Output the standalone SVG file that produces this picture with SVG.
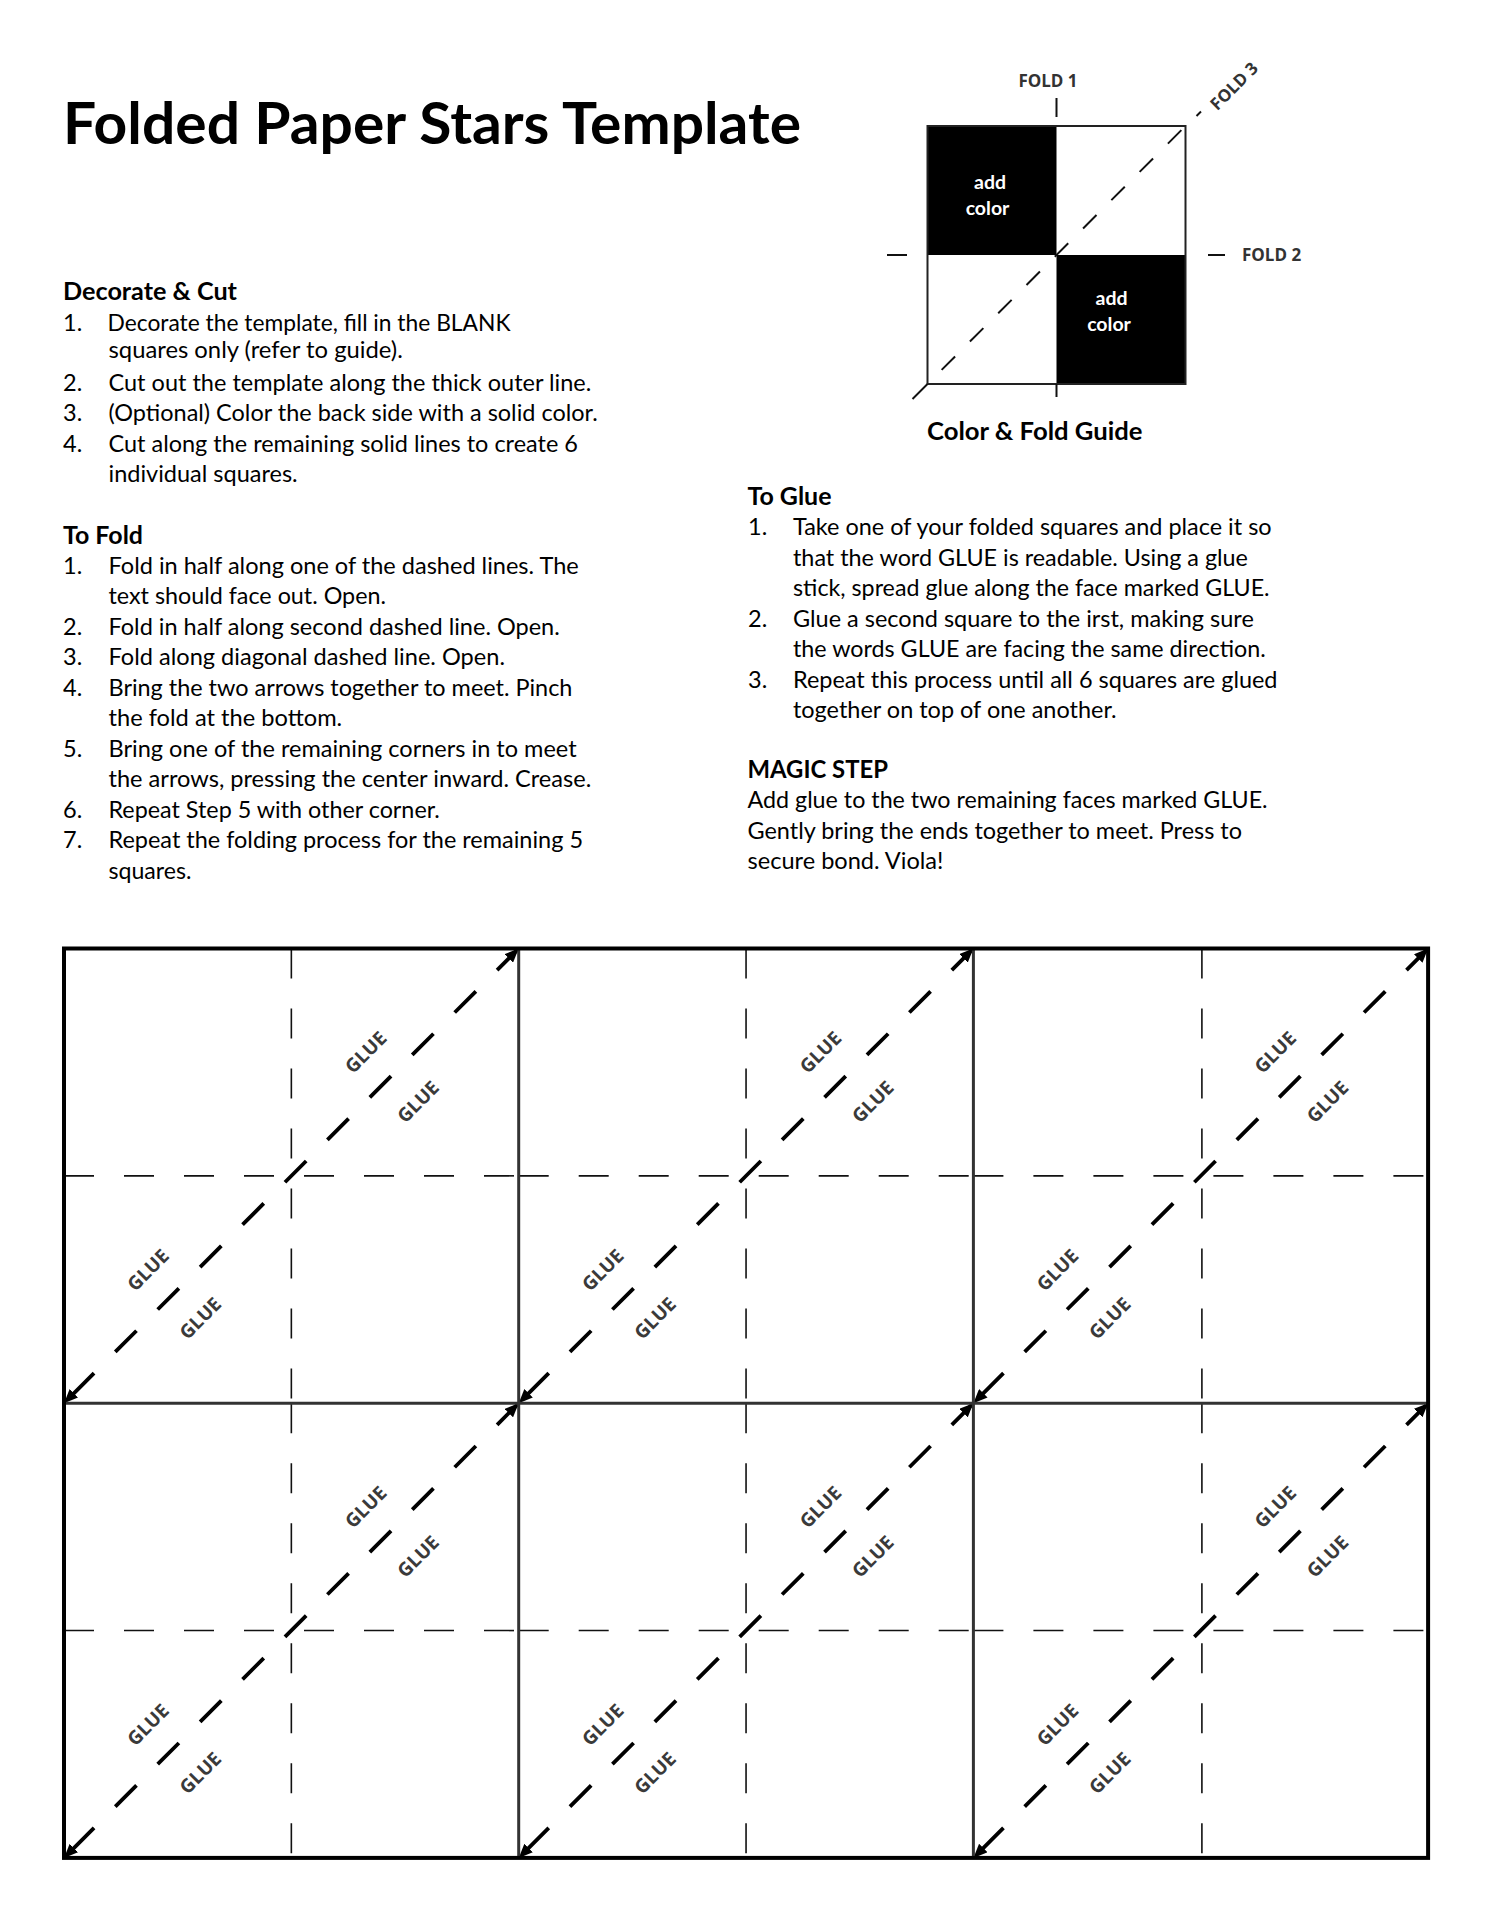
<svg xmlns="http://www.w3.org/2000/svg" width="1494" height="1920" viewBox="0 0 1494 1920">
<style>
.t{font-family:Lato,"Liberation Sans",sans-serif;fill:#000}
.title{font-size:58px;font-weight:700}
.h{font-size:25px;font-weight:700}
.b{font-size:23.5px}
.w{font-family:Lato,"Liberation Sans",sans-serif;font-size:19.5px;font-weight:700;fill:#fff;text-anchor:middle}
.fold{font-family:"Open Sans","Liberation Sans",sans-serif;font-size:17px;font-weight:700;fill:#333}
.glue{font-family:"Open Sans","Liberation Sans",sans-serif;font-size:19px;font-weight:700;fill:#3a3a3a;text-anchor:middle}
.dash{stroke:#111;stroke-width:1.6;stroke-dasharray:30 30;fill:none}
.diag{stroke:#000;stroke-width:3.8;stroke-dasharray:30 30;stroke-dashoffset:47.5;fill:none;marker-start:url(#ah);marker-end:url(#ah)}
.gdiag{stroke:#111;stroke-width:2;fill:none}
.inner{stroke:#333;stroke-width:3;fill:none}
</style>
<defs>
<marker id="ah" viewBox="0 0 14 12" refX="14" refY="6" markerWidth="14" markerHeight="12" markerUnits="userSpaceOnUse" orient="auto-start-reverse">
<path d="M0,0 L14,6 L0,12 Z" fill="#000"/>
</marker>
</defs>
<rect width="1494" height="1920" fill="#fff"/>

<g id="title">
<text class="t title" x="63" y="143.5" textLength="738" lengthAdjust="spacingAndGlyphs">Folded Paper Stars Template</text>
</g>

<g id="guide">
<rect x="927.5" y="126" width="129" height="129" fill="#000"/>
<rect x="1056.5" y="255" width="129" height="129" fill="#000"/>
<rect x="927.5" y="126" width="258" height="258" fill="none" stroke="#222" stroke-width="2"/>
<line class="gdiag" x1="927.5" y1="384" x2="1185.5" y2="126" stroke-dasharray="19 21" stroke-dashoffset="20"/>
<line class="gdiag" x1="912.5" y1="399" x2="927.5" y2="384"/>
<line class="gdiag" x1="1196.5" y1="116" x2="1201" y2="111.5"/>
<line class="gdiag" x1="1056.5" y1="98" x2="1056.5" y2="117"/>
<line class="gdiag" x1="1056.5" y1="384" x2="1056.5" y2="397"/>
<line class="gdiag" x1="887" y1="255" x2="907" y2="255"/>
<line class="gdiag" x1="1208" y1="255" x2="1225" y2="255"/>
<text class="w" x="990" y="189">add</text>
<text class="w" x="987.5" y="215">color</text>
<text class="w" x="1111.5" y="305">add</text>
<text class="w" x="1109" y="331">color</text>
<text class="fold" x="1048" y="87" text-anchor="middle">FOLD 1</text>
<text class="fold" x="1242" y="261">FOLD 2</text>
<text class="fold" x="1234" y="86" text-anchor="middle" transform="rotate(-45 1234 86)" dy="6">FOLD 3</text>
<text class="t h" x="927" y="440" textLength="215.5" lengthAdjust="spacingAndGlyphs">Color &amp; Fold Guide</text>
</g>

<g id="decorate-cut">
<text class="t h" x="63" y="300" textLength="174" lengthAdjust="spacingAndGlyphs">Decorate &amp; Cut</text>
<text class="t b" x="63" y="330.5">1.</text>
<text class="t b" x="107.5" y="330.5" textLength="403" lengthAdjust="spacingAndGlyphs">Decorate the template, fill in the BLANK</text>
<text class="t b" x="108.5" y="358" textLength="294.3" lengthAdjust="spacingAndGlyphs">squares only (refer to guide).</text>
<text class="t b" x="63" y="390.5">2.</text>
<text class="t b" x="108.5" y="390.5" textLength="482.8" lengthAdjust="spacingAndGlyphs">Cut out the template along the thick outer line.</text>
<text class="t b" x="63" y="421">3.</text>
<text class="t b" x="108.5" y="421" textLength="489.2" lengthAdjust="spacingAndGlyphs">(Optional) Color the back side with a solid color.</text>
<text class="t b" x="63" y="451.5">4.</text>
<text class="t b" x="108.5" y="451.5" textLength="469.4" lengthAdjust="spacingAndGlyphs">Cut along the remaining solid lines to create 6</text>
<text class="t b" x="108.5" y="482" textLength="189.1" lengthAdjust="spacingAndGlyphs">individual squares.</text>
</g>

<g id="to-fold">
<text class="t h" x="63" y="543.5" textLength="80" lengthAdjust="spacingAndGlyphs">To Fold</text>
<text class="t b" x="63" y="573.5">1.</text>
<text class="t b" x="108.5" y="573.5" textLength="470.2" lengthAdjust="spacingAndGlyphs">Fold in half along one of the dashed lines. The</text>
<text class="t b" x="108.5" y="604" textLength="277.5" lengthAdjust="spacingAndGlyphs">text should face out. Open.</text>
<text class="t b" x="63" y="634.5">2.</text>
<text class="t b" x="108.5" y="634.5" textLength="451.3" lengthAdjust="spacingAndGlyphs">Fold in half along second dashed line. Open.</text>
<text class="t b" x="63" y="665">3.</text>
<text class="t b" x="108.5" y="665" textLength="396.5" lengthAdjust="spacingAndGlyphs">Fold along diagonal dashed line. Open.</text>
<text class="t b" x="63" y="695.5">4.</text>
<text class="t b" x="108.5" y="695.5" textLength="463.9" lengthAdjust="spacingAndGlyphs">Bring the two arrows together to meet. Pinch</text>
<text class="t b" x="108.5" y="726" textLength="233.7" lengthAdjust="spacingAndGlyphs">the fold at the bottom.</text>
<text class="t b" x="63" y="756.5">5.</text>
<text class="t b" x="108.5" y="756.5" textLength="468.1" lengthAdjust="spacingAndGlyphs">Bring one of the remaining corners in to meet</text>
<text class="t b" x="108.5" y="787" textLength="482.8" lengthAdjust="spacingAndGlyphs">the arrows, pressing the center inward. Crease.</text>
<text class="t b" x="63" y="817.5">6.</text>
<text class="t b" x="108.5" y="817.5" textLength="331.3" lengthAdjust="spacingAndGlyphs">Repeat Step 5 with other corner.</text>
<text class="t b" x="63" y="848">7.</text>
<text class="t b" x="108.5" y="848" textLength="474.5" lengthAdjust="spacingAndGlyphs">Repeat the folding process for the remaining 5</text>
<text class="t b" x="108.5" y="878.5" textLength="83" lengthAdjust="spacingAndGlyphs">squares.</text>
</g>

<g id="to-glue">
<text class="t h" x="747.5" y="504.5" textLength="84" lengthAdjust="spacingAndGlyphs">To Glue</text>
<text class="t b" x="748" y="535">1.</text>
<text class="t b" x="793" y="535" textLength="478.6" lengthAdjust="spacingAndGlyphs">Take one of your folded squares and place it so</text>
<text class="t b" x="793" y="565.5" textLength="454.9" lengthAdjust="spacingAndGlyphs">that the word GLUE is readable. Using a glue</text>
<text class="t b" x="793" y="596" textLength="476.6" lengthAdjust="spacingAndGlyphs">stick, spread glue along the face marked GLUE.</text>
<text class="t b" x="748" y="626.5">2.</text>
<text class="t b" x="793" y="626.5" textLength="460.8" lengthAdjust="spacingAndGlyphs">Glue a second square to the irst, making sure</text>
<text class="t b" x="793" y="657" textLength="472.7" lengthAdjust="spacingAndGlyphs">the words GLUE are facing the same direction.</text>
<text class="t b" x="748" y="687.5">3.</text>
<text class="t b" x="793" y="687.5" textLength="484.5" lengthAdjust="spacingAndGlyphs">Repeat this process until all 6 squares are glued</text>
<text class="t b" x="793" y="718" textLength="323.6" lengthAdjust="spacingAndGlyphs">together on top of one another.</text>
</g>

<g id="magic-step">
<text class="t h" x="747.5" y="777.5" textLength="140.5" lengthAdjust="spacingAndGlyphs">MAGIC STEP</text>
<text class="t b" x="747.5" y="808" textLength="520.1" lengthAdjust="spacingAndGlyphs">Add glue to the two remaining faces marked GLUE.</text>
<text class="t b" x="747.5" y="838.5" textLength="494.5" lengthAdjust="spacingAndGlyphs">Gently bring the ends together to meet. Press to</text>
<text class="t b" x="747.5" y="869" textLength="195.9" lengthAdjust="spacingAndGlyphs">secure bond. Viola!</text>
</g>

<g id="square-1" transform="translate(64 948.5)">
<line class="dash" x1="227.35" y1="0" x2="227.35" y2="454.7"/>
<line class="dash" x1="0" y1="227.35" x2="454.7" y2="227.35"/>
<line class="diag" x1="0" y1="454.7" x2="454.7" y2="0"/>
<g transform="translate(227.35 227.35) rotate(-45)">
<text class="glue" x="140" y="-28">GLUE</text><text class="glue" x="142" y="44">GLUE</text>
<text class="glue" x="-168" y="-28">GLUE</text><text class="glue" x="-165" y="43">GLUE</text>
</g>
</g>
<g id="square-2" transform="translate(518.7 948.5)">
<line class="dash" x1="227.35" y1="0" x2="227.35" y2="454.7"/>
<line class="dash" x1="0" y1="227.35" x2="454.7" y2="227.35"/>
<line class="diag" x1="0" y1="454.7" x2="454.7" y2="0"/>
<g transform="translate(227.35 227.35) rotate(-45)">
<text class="glue" x="140" y="-28">GLUE</text><text class="glue" x="142" y="44">GLUE</text>
<text class="glue" x="-168" y="-28">GLUE</text><text class="glue" x="-165" y="43">GLUE</text>
</g>
</g>
<g id="square-3" transform="translate(973.4 948.5)">
<line class="dash" x1="228.5" y1="0" x2="228.5" y2="454.7"/>
<line class="dash" x1="0" y1="227.35" x2="454.7" y2="227.35"/>
<line class="diag" x1="0" y1="454.7" x2="454.7" y2="0"/>
<g transform="translate(227.35 227.35) rotate(-45)">
<text class="glue" x="140" y="-28">GLUE</text><text class="glue" x="142" y="44">GLUE</text>
<text class="glue" x="-168" y="-28">GLUE</text><text class="glue" x="-165" y="43">GLUE</text>
</g>
</g>
<g id="square-4" transform="translate(64 1403.2)">
<line class="dash" x1="227.35" y1="0" x2="227.35" y2="454.7"/>
<line class="dash" x1="0" y1="227.35" x2="454.7" y2="227.35"/>
<line class="diag" x1="0" y1="454.7" x2="454.7" y2="0"/>
<g transform="translate(227.35 227.35) rotate(-45)">
<text class="glue" x="140" y="-28">GLUE</text><text class="glue" x="142" y="44">GLUE</text>
<text class="glue" x="-168" y="-28">GLUE</text><text class="glue" x="-165" y="43">GLUE</text>
</g>
</g>
<g id="square-5" transform="translate(518.7 1403.2)">
<line class="dash" x1="227.35" y1="0" x2="227.35" y2="454.7"/>
<line class="dash" x1="0" y1="227.35" x2="454.7" y2="227.35"/>
<line class="diag" x1="0" y1="454.7" x2="454.7" y2="0"/>
<g transform="translate(227.35 227.35) rotate(-45)">
<text class="glue" x="140" y="-28">GLUE</text><text class="glue" x="142" y="44">GLUE</text>
<text class="glue" x="-168" y="-28">GLUE</text><text class="glue" x="-165" y="43">GLUE</text>
</g>
</g>
<g id="square-6" transform="translate(973.4 1403.2)">
<line class="dash" x1="228.5" y1="0" x2="228.5" y2="454.7"/>
<line class="dash" x1="0" y1="227.35" x2="454.7" y2="227.35"/>
<line class="diag" x1="0" y1="454.7" x2="454.7" y2="0"/>
<g transform="translate(227.35 227.35) rotate(-45)">
<text class="glue" x="140" y="-28">GLUE</text><text class="glue" x="142" y="44">GLUE</text>
<text class="glue" x="-168" y="-28">GLUE</text><text class="glue" x="-165" y="43">GLUE</text>
</g>
</g>

<g id="cut-lines">
<line class="inner" x1="518.7" y1="948.5" x2="518.7" y2="1857.9"/>
<line class="inner" x1="973.4" y1="948.5" x2="973.4" y2="1857.9"/>
<line class="inner" x1="64" y1="1403.2" x2="1428.1" y2="1403.2"/>
<rect x="64" y="948.5" width="1364.1" height="909.4" fill="none" stroke="#000" stroke-width="4"/>
</g>
</svg>
